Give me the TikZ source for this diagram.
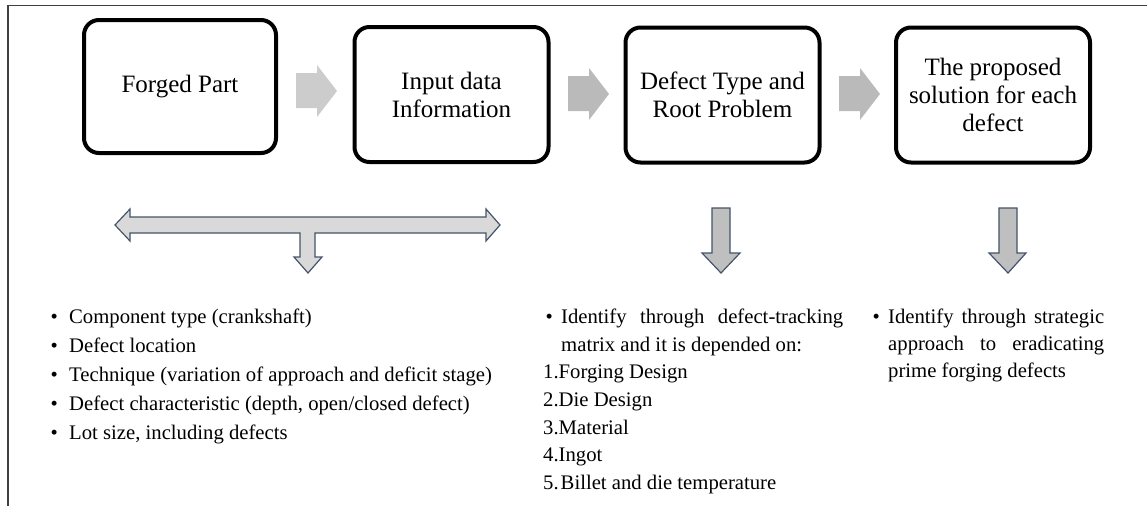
\documentclass[tikz,border=0pt]{standalone}
\usepackage{fontspec}
\setmainfont{Liberation Serif}
\definecolor{framec}{RGB}{64,64,64}
\definecolor{arrowA}{RGB}{204,204,204}
\definecolor{arrowB}{RGB}{186,186,186}
\definecolor{outlinec}{RGB}{68,84,106}
\definecolor{lightfill}{RGB}{217,217,217}
\definecolor{midfill}{RGB}{191,191,191}
\tikzset{
  stepbox/.style={draw=black, line width=4pt, rounded corners=15pt, fill=white,
    align=center, inner sep=0pt, font=\fontsize{25}{28}\selectfont},
  flowarrowA/.style={fill=arrowA, draw=none},
  flowarrowB/.style={fill=arrowB, draw=none},
  outarrow/.style={draw=outlinec, line width=1.2pt, line join=miter},
  listline/.style={anchor=base west, inner sep=0pt, font=\fontsize{20.7}{27}\selectfont},
}
\newcommand{\bul}[1]{\makebox[#1][l]{\textbullet}}
\begin{document}
\begin{tikzpicture}[x=1pt,y=-1pt]
\useasboundingbox (0,0) rectangle (1147,506);
% frame
\draw[framec, line width=1.5pt] (8,506) -- (8,5.7) -- (1147,5.7);

% boxes
\node[stepbox, minimum width=192pt, minimum height=133pt] (b1) at (180,86.5) {Forged Part};
\node[stepbox, minimum width=194pt, minimum height=135pt] (b2) at (451.5,94.5) {Input data\\Information};
\node[stepbox, minimum width=194pt, minimum height=135pt] (b3) at (722.5,95) {Defect Type and\\Root Problem};
\node[stepbox, minimum width=194pt, minimum height=135pt] (b4) at (993,95) {The proposed\\solution for each\\defect};

% gray flow arrows
\fill[flowarrowA] (296,73) -- (317,73) -- (317,65) -- (337,91) -- (317,117) -- (317,108) -- (296,108) -- cycle;
\fill[flowarrowB] (568,76) -- (589,76) -- (589,68) -- (609,94) -- (589,120) -- (589,111) -- (568,111) -- cycle;
\fill[flowarrowB] (839,76) -- (860,76) -- (860,68) -- (880,94) -- (860,120) -- (860,111) -- (839,111) -- cycle;

% double-headed arrow with down branch
\draw[outarrow, fill=lightfill] (115,225) -- (130,209) -- (130,217) -- (486,217) -- (486,209) -- (500,225)
  -- (486,241) -- (486,233) -- (315,233) -- (315,257) -- (322,257) -- (308,273) -- (294,257)
  -- (300,257) -- (300,233) -- (130,233) -- (130,241) -- cycle;

% down arrows
\draw[outarrow, fill=midfill] (712,208) -- (730,208) -- (730,253) -- (740,253) -- (721,273) -- (702,253) -- (712,253) -- cycle;
\draw[outarrow, fill=midfill] (999,208) -- (1017,208) -- (1017,253) -- (1026,253) -- (1008,273) -- (989,253) -- (999,253) -- cycle;

% left list
\node[listline] (l1) at (50.5,323) {\bul{18.5pt}Component type (crankshaft)};
\node[listline] (l2) at (50.5,352) {\bul{18.5pt}Defect location};
\node[listline] (l3) at (50.5,381) {\bul{18.5pt}Technique (variation of approach and deficit stage)};
\node[listline] (l4) at (50.5,410) {\bul{18.5pt}Defect characteristic (depth, open/closed defect)};
\node[listline] (l5) at (50.5,439) {\bul{18.5pt}Lot size, including defects};

% middle list
\node[listline] (m1) at (545.5,323) {\bul{15.5pt}\hbox to 282pt{Identify\hfill through\hfill defect-tracking}};
\node[listline] (m2) at (561,351) {matrix and it is depended on:};
\node[listline] (m3) at (543,378) {1.Forging Design};
\node[listline] (m4) at (543,406) {2.Die Design};
\node[listline] (m5) at (543,434) {3.Material};
\node[listline] (m6) at (543,461) {4.Ingot};
\node[listline] (m7) at (543,489) {5.\kern2pt Billet and die temperature};

% right list
\node[listline] (r1) at (872.5,323) {\bul{15.5pt}\hbox to 216pt{Identify\hfill through\hfill strategic}};
\node[listline] (r2) at (888,350) {\hbox to 216pt{approach\hfill to\hfill eradicating}};
\node[listline] (r3) at (888,377) {prime forging defects};
\end{tikzpicture}
\end{document}
